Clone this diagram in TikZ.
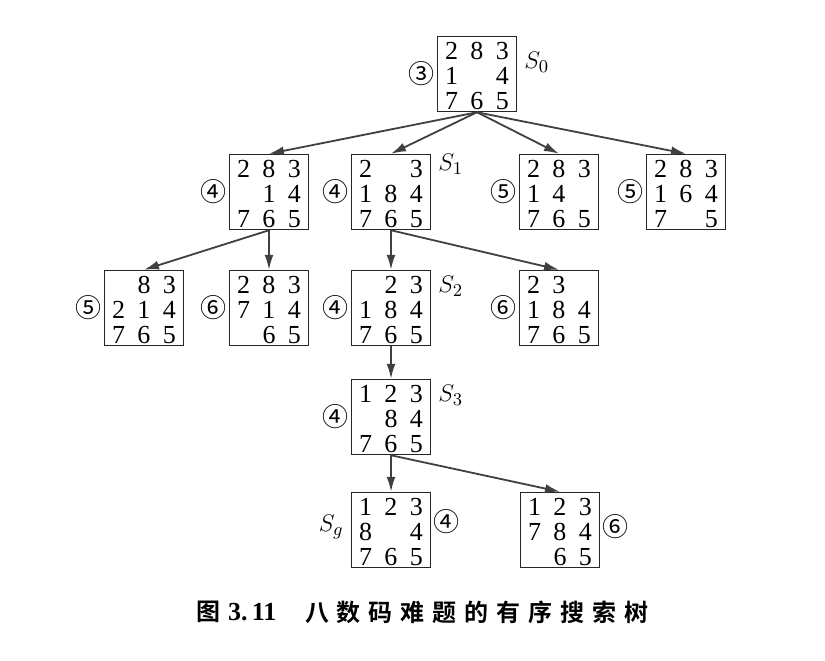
\documentclass[tikz,border=0pt]{standalone}
\usepackage{fontspec}
\setmainfont{Liberation Serif}
\newfontfamily\cjk{Noto Sans CJK SC}[BoldFont={Noto Sans CJK SC Bold}]
\usetikzlibrary{arrows.meta}
\newcommand\cell[1]{\makebox[12.75pt]{#1}}
\newcommand\board[9]{%
  \begin{tabular}{@{}c@{}c@{}c@{}}
  \cell{#1}&\cell{#2}&\cell{#3}\\
  \cell{#4}&\cell{#5}&\cell{#6}\\
  \cell{#7}&\cell{#8}&\cell{#9}
  \end{tabular}}
\tikzset{
  state/.style={draw=black!85, line width=0.75pt, inner sep=0pt,
    minimum width=39.5pt, text height=24.4pt, text depth=13.1pt,
    font=\fontsize{13}{12.5}\selectfont},
  val/.style={font=\cjk\fontsize{13}{13}\selectfont, inner sep=0.8pt},
  sl/.style={font=\fontsize{13}{13}\selectfont},
  move/.style={draw=black!75, line width=0.9pt, -{Latex[length=7.5pt,width=4.5pt]}}
}
\begin{document}
\begin{tikzpicture}[x=0.5pt,y=-0.5pt]
\useasboundingbox[fill=white] (0,0) rectangle (825,660);
\node[state, label={[val]left:③}, label={[sl,yshift=6pt]right:$S_0$}] (s0) at (477,74) {\board{2}{8}{3}{1}{}{4}{7}{6}{5}};
\node[state, label={[val]left:④}] (a) at (269,192) {\board{2}{8}{3}{}{1}{4}{7}{6}{5}};
\node[state, label={[val]left:④}, label={[sl,yshift=14pt]right:$S_1$}] (s1) at (391,192) {\board{2}{}{3}{1}{8}{4}{7}{6}{5}};
\node[state, label={[val]left:⑤}] (c) at (559,192) {\board{2}{8}{3}{1}{4}{}{7}{6}{5}};
\node[state, label={[val]left:⑤}] (d) at (686,192) {\board{2}{8}{3}{1}{6}{4}{7}{}{5}};
\node[state, label={[val]left:⑤}] (e) at (144,308) {\board{}{8}{3}{2}{1}{4}{7}{6}{5}};
\node[state, label={[val]left:⑥}] (f) at (269,308) {\board{2}{8}{3}{7}{1}{4}{}{6}{5}};
\node[state, label={[val]left:④}, label={[sl,yshift=11pt]right:$S_2$}] (s2) at (391,308) {\board{}{2}{3}{1}{8}{4}{7}{6}{5}};
\node[state, label={[val]left:⑥}] (h) at (559,308) {\board{2}{3}{}{1}{8}{4}{7}{6}{5}};
\node[state, label={[val]left:④}, label={[sl,yshift=11pt]right:$S_3$}] (s3) at (391,417) {\board{1}{2}{3}{}{8}{4}{7}{6}{5}};
\node[state, label={[sl,yshift=1.5pt]left:$S_g$}, label={[val,yshift=4pt]right:④}] (sg) at (391,530) {\board{1}{2}{3}{8}{}{4}{7}{6}{5}};
\node[state, label={[val,yshift=1.5pt]right:⑥}] (t) at (560,530) {\board{1}{2}{3}{7}{8}{4}{}{6}{5}};
\draw[move] (s0.south) -- (a.north);
\draw[move] (s0.south) -- (s1.north);
\draw[move] (s0.south) -- (c.north);
\draw[move] (s0.south) -- (d.north);
\draw[move] (a.south) -- (e.north);
\draw[move] (a.south) -- (f.north);
\draw[move] (s1.south) -- (s2.north);
\draw[move] (s1.south) -- (h.north);
\draw[move] (s2.south) -- (s3.north);
\draw[move] (s3.south) -- (sg.north);
\draw[move] (s3.south) -- (t.north);
\node[anchor=west, font=\cjk\bfseries\fontsize{12}{12}\selectfont] (fig) at (189,612) {图\hspace{4pt}{\rmfamily\bfseries\fontsize{13}{13}\selectfont 3.\,11}};
\node[anchor=west, font=\cjk\bfseries\fontsize{12}{12}\selectfont\addfontfeature{LetterSpace=33}] (title) at (298,612) {八数码难题的有序搜索树};
\end{tikzpicture}
\end{document}
